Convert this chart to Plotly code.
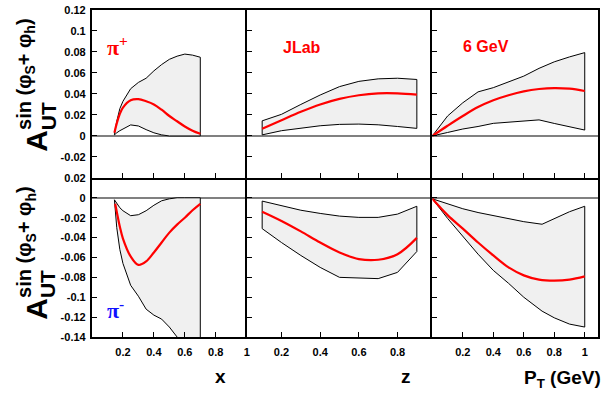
import plotly.graph_objects as go
from plotly.subplots import make_subplots

# ---------------- data ----------------
# top-left: pi+, vs x
x_pp_band = [0.145, 0.16, 0.18, 0.2, 0.25, 0.3, 0.35, 0.4, 0.45, 0.5, 0.55, 0.6, 0.65, 0.7]
pp_x_upper = [0.002, 0.014, 0.026, 0.033, 0.045, 0.051, 0.055, 0.062, 0.068, 0.073, 0.076, 0.078, 0.077, 0.075]
pp_x_lower = [0.001, 0.003, 0.005, 0.007, 0.0105, 0.0095, 0.006, 0.003, 0.001, 0.0, 0.0, 0.0, 0.0, 0.0]
x_pp_curve = [0.145, 0.16, 0.18, 0.2, 0.25, 0.3, 0.35, 0.4, 0.45, 0.5, 0.55, 0.6, 0.65, 0.7]
pp_x_curve = [0.003, 0.012, 0.021, 0.027, 0.034, 0.035, 0.033, 0.030, 0.025, 0.019, 0.014, 0.009, 0.005, 0.002]

# bottom-left: pi-, vs x
x_pm_band = [0.145, 0.16, 0.18, 0.2, 0.25, 0.3, 0.35, 0.4, 0.45, 0.5, 0.55, 0.6, 0.65, 0.7]
pm_x_upper = [-0.002, -0.006, -0.010, -0.013, -0.018, -0.017, -0.013, -0.0075, -0.003, -0.001, 0.0, 0.0, 0.0, 0.0]
pm_x_lower = [-0.002, -0.030, -0.052, -0.066, -0.088, -0.099, -0.112, -0.118, -0.122, -0.130, -0.140, -0.150, -0.158, -0.165]
x_pm_curve = [0.15, 0.16, 0.18, 0.2, 0.25, 0.3, 0.35, 0.4, 0.45, 0.5, 0.55, 0.6, 0.65, 0.7]
pm_x_curve = [-0.006, -0.014, -0.029, -0.041, -0.059, -0.0675, -0.064, -0.055, -0.045, -0.035, -0.027, -0.020, -0.0125, -0.006]

# middle: vs z
z_vals = [0.1, 0.2, 0.3, 0.4, 0.5, 0.6, 0.7, 0.8, 0.9]
pp_z_curve = [0.0069, 0.015, 0.023, 0.030, 0.0353, 0.0388, 0.0406, 0.0406, 0.0394]
pp_z_upper = [0.0144, 0.0206, 0.030, 0.039, 0.047, 0.052, 0.0544, 0.055, 0.0538]
pp_z_lower = [0.001, 0.005, 0.0075, 0.0097, 0.011, 0.0113, 0.0106, 0.009, 0.0072]
pm_z_curve = [-0.014, -0.0233, -0.0338, -0.045, -0.055, -0.0616, -0.0623, -0.0567, -0.0403]
pm_z_upper = [-0.0033, -0.008, -0.0125, -0.0157, -0.0184, -0.0197, -0.0197, -0.0164, -0.0085]
pm_z_lower = [-0.031, -0.045, -0.058, -0.070, -0.080, -0.081, -0.0813, -0.075, -0.054]

# right: vs PT
pt_vals = [0.0, 0.1, 0.2, 0.3, 0.4, 0.5, 0.6, 0.7, 0.8, 0.9, 1.0]
pp_pt_curve = [0.0, 0.0097, 0.019, 0.0275, 0.034, 0.0388, 0.0425, 0.0447, 0.0456, 0.045, 0.0428]
pp_pt_upper = [0.0, 0.019, 0.0316, 0.042, 0.046, 0.0513, 0.057, 0.0644, 0.0706, 0.0753, 0.0794]
pp_pt_lower = [0.0, 0.0033, 0.0066, 0.009, 0.012, 0.013, 0.0144, 0.0153, 0.0119, 0.0084, 0.0056]
pt_band_pm = [0.0, 0.1, 0.2, 0.3, 0.4, 0.5, 0.6, 0.72, 0.8, 0.9, 1.0]
pm_pt_upper = [-0.001, -0.006, -0.011, -0.0148, -0.018, -0.021, -0.024, -0.0266, -0.021, -0.014, -0.0085]
pm_pt_lower = [-0.001, -0.0207, -0.0387, -0.0567, -0.073, -0.086, -0.100, -0.114, -0.1207, -0.127, -0.130]
pm_pt_curve = [-0.001, -0.0174, -0.031, -0.045, -0.058, -0.070, -0.078, -0.0823, -0.0833, -0.0823, -0.079]

x_tickvals = [[0.2, 0.4, 0.6, 0.8, 1.0], [0.2, 0.4, 0.6, 0.8], [0.2, 0.4, 0.6, 0.8, 1.0]]
x_ticktext = [["0.2", "0.4", "0.6", "0.8", "1"], ["0.2", "0.4", "0.6", "0.8"], ["0.2", "0.4", "0.6", "0.8", "1"]]
y_top_vals = [-0.02, 0.0, 0.02, 0.04, 0.06, 0.08, 0.1, 0.12]
y_top_text = ["-0.02", "0", "0.02", "0.04", "0.06", "0.08", "0.1", "0.12"]
y_bot_vals = [-0.14, -0.12, -0.1, -0.08, -0.06, -0.04, -0.02, 0.0, 0.02]
y_bot_text = ["-0.14", "-0.12", "-0.1", "-0.08", "-0.06", "-0.04", "-0.02", "0", "0.02"]

# ---------------- figure ----------------
W, H = 605, 399
ML, MR, MT, MB = 92, 6, 4, 62
PW, PH = W - ML - MR, H - MT - MB

fig = make_subplots(rows=2, cols=3, column_widths=[155, 186, 166], row_heights=[171, 162],
                    horizontal_spacing=0, vertical_spacing=0)

FILL = "#f0f0f0"
RED = "#ff0000"


def add_panel(xb_up, up, xb_lo, lo, xc, yc, row, col):
    bx = list(xb_up) + list(xb_lo)[::-1] + [xb_up[0]]
    by = list(up) + list(lo)[::-1] + [up[0]]
    fig.add_trace(go.Scatter(x=bx, y=by, mode="lines", fill="toself", fillcolor=FILL,
                             line=dict(color="black", width=1), showlegend=False,
                             hoverinfo="skip"), row=row, col=col)
    fig.add_trace(go.Scatter(x=xc, y=yc, mode="lines", line=dict(color=RED, width=2.2, shape="spline"),
                             showlegend=False), row=row, col=col)


add_panel(x_pp_band, pp_x_upper, x_pp_band, pp_x_lower, x_pp_curve, pp_x_curve, 1, 1)
add_panel(x_pm_band, pm_x_upper, x_pm_band, pm_x_lower, x_pm_curve, pm_x_curve, 2, 1)
add_panel(z_vals, pp_z_upper, z_vals, pp_z_lower, z_vals, pp_z_curve, 1, 2)
add_panel(z_vals, pm_z_upper, z_vals, pm_z_lower, z_vals, pm_z_curve, 2, 2)
add_panel(pt_vals, pp_pt_upper, pt_vals, pp_pt_lower, pt_vals, pp_pt_curve, 1, 3)
add_panel(pt_band_pm, pm_pt_upper, pt_band_pm, pm_pt_lower, pt_vals, pm_pt_curve, 2, 3)

x_ranges = [[0, 1], [0.02, 0.98], [0, 1.087]]
y_ranges = [[-0.04, 0.12], [-0.14, 0.02]]
tickfont = dict(family="Liberation Sans", size=11, color="black", weight="bold")

for r in (1, 2):
    for c in (1, 2, 3):
        fig.update_xaxes(range=x_ranges[c - 1], tickvals=x_tickvals[c - 1], ticktext=x_ticktext[c - 1],
                         ticks="inside", ticklen=5, tickwidth=1, tickcolor="black",
                         showline=True, linewidth=2.2, linecolor="black", mirror=(r == 1),
                         showgrid=False, zeroline=False, showticklabels=(r == 2),
                         tickfont=tickfont, ticklabelstandoff=4, row=r, col=c)
        fig.update_yaxes(range=y_ranges[r - 1],
                         tickvals=y_top_vals if r == 1 else y_bot_vals,
                         ticktext=y_top_text if r == 1 else y_bot_text,
                         ticks="inside", ticklen=5, tickwidth=1, tickcolor="black",
                         showline=True, linewidth=2.2, linecolor="black", mirror=(c == 3),
                         showgrid=False, zeroline=True, zerolinecolor="#808080", zerolinewidth=1.5,
                         showticklabels=(c == 1), tickfont=tickfont, ticklabelstandoff=2,
                         row=r, col=c)


def px(x):
    return (x - ML) / PW


def py(y):
    return (H - MB - y) / PH


ann = []
BF = "Liberation Sans"


def text(t, x, y, size, color="black", xa="center", ya="middle", angle=0, family=BF, weight="bold"):
    ann.append(dict(text=t, x=px(x), y=py(y), xref="paper", yref="paper", showarrow=False,
                    xanchor=xa, yanchor=ya, textangle=angle,
                    font=dict(family=family, size=size, color=color, weight=weight)))


# axis titles
text("x", 221, 377, 19)
text("z", 407, 377, 19)
text("P<sub>T</sub> (GeV)", 604, 380, 19, xa="right")

# panel labels
text("π<sup>+</sup>", 105, 41, 22, color=RED, xa="left", family="Liberation Serif", weight="bold")
text("π<sup>-</sup>", 105, 308, 22, color="#1010ff", xa="left", family="Liberation Serif", weight="bold")
text("JLab", 281, 42, 16, color=RED, xa="left")
text("6 GeV", 462, 41, 16, color=RED, xa="left")

# y titles (rotated)
for dy in (0, 171):
    text("A", 36, 137 + dy, 30, angle=-90)
    text("UT", 48, 112 + dy, 21, angle=-90)
    text("sin (φ<sub>S</sub>+ φ<sub>h</sub>)", 26, 69 + dy, 20, angle=-90)

fig.update_layout(width=W, height=H, margin=dict(l=ML, r=MR, t=MT, b=MB),
                  paper_bgcolor="white", plot_bgcolor="white", annotations=ann,
                  font=dict(family=BF))

fig.write_html("out.html", config={"displayModeBar": False},
               post_script="document.body.style.margin='0';document.body.style.overflow='hidden';")
